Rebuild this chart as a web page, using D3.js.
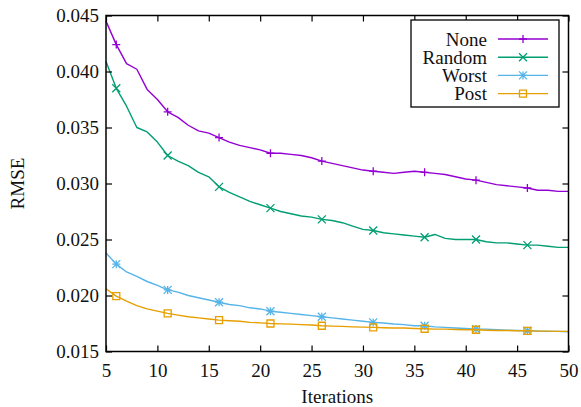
<!DOCTYPE html>
<html>
<head>
<meta charset="utf-8">
<script src="https://cdn.jsdelivr.net/npm/d3@7"></script>
<style>
  body { margin: 0; background: #fff; }
</style>
</head>
<body>
<svg id="chart"></svg>
<script>
const iterations = [5, 6, 7, 8, 9, 10, 11, 12, 13, 14, 15, 16, 17, 18, 19, 20, 21, 22, 23, 24, 25, 26, 27,
  28, 29, 30, 31, 32, 33, 34, 35, 36, 37, 38, 39, 40, 41, 42, 43, 44, 45, 46, 47, 48, 49, 50];

const noneValues = [0.0445, 0.0424, 0.0407, 0.0402, 0.0384, 0.0375, 0.0364, 0.0359, 0.0352, 0.0347, 0.0345,
  0.0341, 0.0337, 0.0334, 0.0332, 0.0330, 0.0327, 0.0327, 0.0326, 0.0325, 0.0323, 0.0320, 0.0318, 0.0316,
  0.0314, 0.0312, 0.0311, 0.0310, 0.0309, 0.0310, 0.0311, 0.0310, 0.0309, 0.0308, 0.0306, 0.0304, 0.0303,
  0.0301, 0.0299, 0.0298, 0.0297, 0.0296, 0.0294, 0.0294, 0.0293, 0.0293];

const randomValues = [0.0409, 0.0385, 0.0369, 0.0350, 0.0346, 0.0337, 0.0325, 0.0320, 0.0316, 0.0310, 0.0306,
  0.0297, 0.0292, 0.0288, 0.0284, 0.0281, 0.0278, 0.0275, 0.0273, 0.0271, 0.0270, 0.0268, 0.0267, 0.0265,
  0.0262, 0.0259, 0.0258, 0.0256, 0.0255, 0.0254, 0.0253, 0.0252, 0.02545, 0.0251, 0.0250, 0.0250, 0.0250,
  0.0248, 0.0247, 0.0247, 0.0246, 0.0245, 0.0245, 0.0244, 0.0243, 0.0243];

const worstValues = [0.0238, 0.0228, 0.0221, 0.0217, 0.02125, 0.0209, 0.0205, 0.0203, 0.0200, 0.0198, 0.0196,
  0.0194, 0.0192, 0.0191, 0.0189, 0.0188, 0.0186, 0.0185, 0.0184, 0.0183, 0.0182, 0.0181, 0.0180, 0.0179,
  0.0178, 0.0177, 0.0176, 0.01754, 0.01745, 0.0174, 0.0173, 0.0173, 0.0172, 0.01715, 0.0171, 0.01706, 0.0170,
  0.0170, 0.01694, 0.0169, 0.01688, 0.01685, 0.01682, 0.0168, 0.0168, 0.01676];

const postValues = [0.0206, 0.01995, 0.0195, 0.0191, 0.0188, 0.0186, 0.0184, 0.01825, 0.0181, 0.0180, 0.0179,
  0.0178, 0.01775, 0.0177, 0.0176, 0.01756, 0.0175, 0.01747, 0.01744, 0.0174, 0.01736, 0.0173, 0.01727, 0.01724,
  0.0172, 0.01718, 0.01715, 0.01712, 0.0171, 0.0171, 0.01706, 0.01703, 0.0170, 0.0170, 0.01697, 0.01694, 0.01694,
  0.0169, 0.01688, 0.01688, 0.01685, 0.01685, 0.01682, 0.01682, 0.0168, 0.0168];

const seriesNames = ['None', 'Random', 'Worst', 'Post'];
const seriesColors = ['#9400d3', '#009e73', '#56b4e9', '#e69f00'];
const seriesMarkers = ['plus', 'cross', 'star', 'square'];
const xTicks = [5, 10, 15, 20, 25, 30, 35, 40, 45, 50];
const yTicks = [0.015, 0.02, 0.025, 0.03, 0.035, 0.04, 0.045];

const fontFamily = '"Liberation Serif", serif';
const fontSize = '19px';

const config = {
  width: 581,
  height: 407,
  margins: { top: 15.5, right: 12.5, bottom: 55.5, left: 106 }
};

const series = seriesNames.map((name, i) => ({
  name: name,
  color: seriesColors[i],
  marker: seriesMarkers[i],
  values: [noneValues, randomValues, worstValues, postValues][i].map((v, j) => ({ x: iterations[j], y: v }))
}));

const svg = d3.select('#chart')
  .attr('width', config.width)
  .attr('height', config.height);

const innerW = config.width - config.margins.left - config.margins.right;
const innerH = config.height - config.margins.top - config.margins.bottom;

const x = d3.scaleLinear().domain([5, 50]).range([0, innerW]);
const y = d3.scaleLinear().domain([0.015, 0.045]).range([innerH, 0]);

const g = svg.append('g')
  .attr('transform', `translate(${config.margins.left}, ${config.margins.top})`);

// marker shapes, drawn around 0,0
function markerPath(type, r) {
  const p = d3.path();
  if (type == 'plus' || type == 'star') {
    p.moveTo(-r, 0); p.lineTo(r, 0);
    p.moveTo(0, -r); p.lineTo(0, r);
  }
  if (type == 'cross' || type == 'star') {
    p.moveTo(-r, -r); p.lineTo(r, r);
    p.moveTo(-r, r); p.lineTo(r, -r);
  }
  if (type == 'square') {
    p.rect(-r, -r, 2 * r, 2 * r);
  }
  return p.toString();
}

const line = d3.line().x(d => x(d.x)).y(d => y(d.y));

series.forEach((s) => {
  g.append('path')
    .datum(s.values)
    .attr('fill', 'none')
    .attr('stroke', s.color)
    .attr('stroke-width', 1.4)
    .attr('stroke-linejoin', 'round')
    .attr('d', line);

  g.selectAll(null)
    .data(s.values.filter(d => (d.x - 1) % 5 == 0))
    .join('path')
      .attr('transform', d => `translate(${x(d.x)}, ${y(d.y)})`)
      .attr('d', markerPath(s.marker, s.marker == 'square' ? 3.5 : 4))
      .attr('fill', 'none')
      .attr('stroke', s.color)
      .attr('stroke-width', 1.3);
});

// axes, ticks pointing inward on all four sides
const tickLen = 6;
const xAxisB = d3.axisBottom(x).tickValues(xTicks).tickSizeInner(-tickLen).tickSizeOuter(0).tickPadding(12);
const xAxisT = d3.axisTop(x).tickValues(xTicks).tickSizeInner(-tickLen).tickSizeOuter(0).tickFormat('');
const yAxisL = d3.axisLeft(y).tickValues(yTicks).tickSizeInner(-tickLen).tickSizeOuter(0).tickPadding(7).tickFormat(d3.format('.3f'));
const yAxisR = d3.axisRight(y).tickValues(yTicks).tickSizeInner(-tickLen).tickSizeOuter(0).tickFormat('');

g.append('g').attr('class', 'axis').attr('transform', `translate(0, ${innerH})`).call(xAxisB);
g.append('g').attr('class', 'axis').call(xAxisT);
g.append('g').attr('class', 'axis').call(yAxisL);
g.append('g').attr('class', 'axis').attr('transform', `translate(${innerW}, 0)`).call(yAxisR);

svg.selectAll('.axis path.domain').remove();
svg.selectAll('.axis .tick line').attr('stroke', '#000').attr('stroke-width', 1.2);

// plot border
g.append('rect')
  .attr('width', innerW)
  .attr('height', innerH)
  .attr('fill', 'none')
  .attr('stroke', '#000')
  .attr('stroke-width', 1.5);

// axis titles
svg.append('text')
  .attr('x', config.margins.left + innerW / 2)
  .attr('y', config.height - 4)
  .attr('text-anchor', 'middle')
  .text('Iterations');

svg.append('text')
  .attr('transform', `translate(24, ${config.margins.top + innerH / 2}) rotate(-90)`)
  .attr('text-anchor', 'middle')
  .text('RMSE');

// legend
const legend = svg.append('g').attr('transform', 'translate(411, 20)');
legend.append('rect')
  .attr('width', 148)
  .attr('height', 87)
  .attr('fill', '#fff')
  .attr('stroke', '#000')
  .attr('stroke-width', 1.3);

const item = legend.selectAll('g.item')
  .data(series)
  .join('g')
    .attr('class', 'item')
    .attr('transform', (d, i) => `translate(0, ${19 + i * 18.2})`);

item.append('text')
  .attr('x', 76)
  .attr('dy', '0.35em')
  .attr('text-anchor', 'end')
  .text(d => d.name);

item.append('line')
  .attr('x1', 87).attr('x2', 137)
  .attr('stroke', d => d.color)
  .attr('stroke-width', 1.4);

item.append('path')
  .attr('transform', 'translate(112, 0)')
  .attr('d', d => markerPath(d.marker, d.marker == 'square' ? 3.5 : 4))
  .attr('fill', 'none')
  .attr('stroke', d => d.color)
  .attr('stroke-width', 1.3);

// every text in one serif face
svg.selectAll('text')
  .style('font-family', fontFamily)
  .style('font-size', fontSize)
  .attr('fill', '#111');
</script>
</body>
</html>
